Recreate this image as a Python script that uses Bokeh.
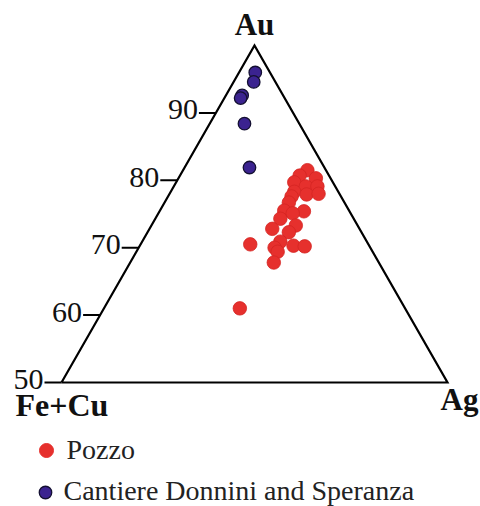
import math
from bokeh.plotting import figure
from bokeh.models import Range1d
from bokeh.core.properties import value
from bokeh.embed import file_html
from bokeh.resources import INLINE

# ---- data (wt%) ----
pozzo_au = [81.5, 80.7, 80.3, 79.7, 79.1, 79.1, 78.3, 77.9, 78.0, 77.6, 76.7, 75.5, 75.4,
            75.1, 74.3, 73.3, 72.8, 72.3, 70.9, 70.5, 70.0, 69.4, 70.3, 70.2, 67.8, 61.0]
pozzo_ag = [16.1, 15.5, 17.8, 15.3, 17.1, 18.6, 16.0, 17.8, 19.3, 16.0, 16.1, 16.1, 18.7,
            17.4, 16.2, 18.7, 15.9, 18.3, 17.9, 14.2, 17.6, 18.3, 19.9, 21.4, 18.6, 17.6]
pozzo_fecu = [2.4, 3.8, 1.9, 5.0, 3.8, 2.3, 5.7, 4.3, 2.7, 6.4, 7.2, 8.4, 5.9,
              7.5, 9.5, 8.0, 11.3, 9.4, 11.2, 15.3, 12.4, 12.3, 9.8, 8.4, 13.6, 21.4]

donnini_au = [96.0, 94.6, 92.6, 92.2, 88.4, 81.9]
donnini_ag = [2.1, 2.6, 2.1, 2.1, 4.5, 8.4]
donnini_fecu = [1.9, 2.8, 5.3, 5.7, 7.1, 9.7]

au_ticks = [50, 60, 70, 80, 90]
au_tick_labels = ["50", "60", "70", "80", "90"]
corner_labels = ["Au", "Fe+Cu", "Ag"]
series_names = ["Pozzo", "Cantiere Donnini and Speranza"]

AU_MIN = 50.0
H = math.sqrt(3) / 2


def tern(au, ag, fecu):
    xs, ys = [], []
    for a_, g_, f_ in zip(au, ag, fecu):
        t = a_ + g_ + f_
        a = (a_ / t * 100 - AU_MIN) / (100 - AU_MIN)
        g = (g_ / t * 100) / (100 - AU_MIN)
        xs.append(g + a / 2)
        ys.append(a * H)
    return xs, ys


# pixel helpers (screen px -> data units)
SX = 386.0
SY = 389.1
W, HT = 480, 506
TS = 9  # svg text renders lower than requested baseline; compensate


def dx(px):
    return px / SX


def dy(px):
    return px / SY


def pt(sx, sy):
    return ((sx - 61) / SX, (382 - sy) / SY)


def tpt(sx, sy):
    return pt(sx, sy - TS)


x0, y1 = pt(0, 0)
x1, y0 = pt(W, HT)

p = figure(width=W, height=HT, x_range=Range1d(x0, x1), y_range=Range1d(y0, y1),
           output_backend="svg", toolbar_location=None, min_border=0,
           x_axis_location=None, y_axis_location=None)
p.grid.visible = False
p.outline_line_color = None
p.background_fill_color = "white"

SERIF = value("Liberation Serif")

# triangle
p.line([0, 1, 0.5, 0], [0, 0, H, 0], line_color="black", line_width=2.2, line_join="miter")

# Au ticks along left edge
tx = [((v - AU_MIN) / (100 - AU_MIN)) / 2 for v in au_ticks]
ty = [((v - AU_MIN) / (100 - AU_MIN)) * H for v in au_ticks]
p.segment(x0=[x - dx(17) for x in tx], y0=ty, x1=tx, y1=ty, line_color="black", line_width=2)
p.text(x=[x - dx(18) for x in tx], y=[y - dy(6 - TS) for y in ty], text=au_tick_labels,
       text_font=SERIF, text_font_size="30px", text_align="right",
       text_baseline="alphabetic", text_color="#111111")

# corner labels
a_pos = tpt(254, 33)
f_pos = tpt(15, 413)
g_pos = tpt(478, 408)
p.text(x=[a_pos[0]], y=[a_pos[1]], text=[corner_labels[0]], text_font=SERIF, text_font_size="31px",
       text_font_style="bold", text_align="center", text_baseline="alphabetic", text_color="#111111")
p.text(x=[f_pos[0]], y=[f_pos[1]], text=[corner_labels[1]], text_font=SERIF, text_font_size="32px",
       text_font_style="bold", text_align="left", text_baseline="alphabetic", text_color="#111111")
p.text(x=[g_pos[0]], y=[g_pos[1]], text=[corner_labels[2]], text_font=SERIF, text_font_size="31px",
       text_font_style="bold", text_align="right", text_baseline="alphabetic", text_color="#111111")

# data points
RED = "#e6302d"
PURPLE = "#3b2390"
px_, py_ = tern(pozzo_au, pozzo_ag, pozzo_fecu)
p.scatter(px_, py_, size=13.5, fill_color=RED, line_color="#d42422", line_width=0.8)
qx_, qy_ = tern(donnini_au, donnini_ag, donnini_fecu)
p.scatter(qx_, qy_, size=12.5, fill_color=PURPLE, line_color="#141032", line_width=1.3)

# legend (manual)
l1 = pt(46, 450)
l2 = pt(45, 492)
p.scatter([l1[0]], [l1[1]], size=14, fill_color=RED, line_color=RED)
p.scatter([l2[0]], [l2[1]], size=12.5, fill_color=PURPLE, line_color="#141032", line_width=1.3)
t1 = tpt(66, 458)
t2 = tpt(63, 499)
p.text(x=[t1[0]], y=[t1[1]], text=[series_names[0]], text_font=SERIF, text_font_size="28px",
       text_align="left", text_baseline="alphabetic", text_color="#222222")
p.text(x=[t2[0]], y=[t2[1]], text=[series_names[1]], text_font=SERIF, text_font_size="28px",
       text_align="left", text_baseline="alphabetic", text_color="#222222")

open("out.html", "w").write(file_html(p, INLINE))
